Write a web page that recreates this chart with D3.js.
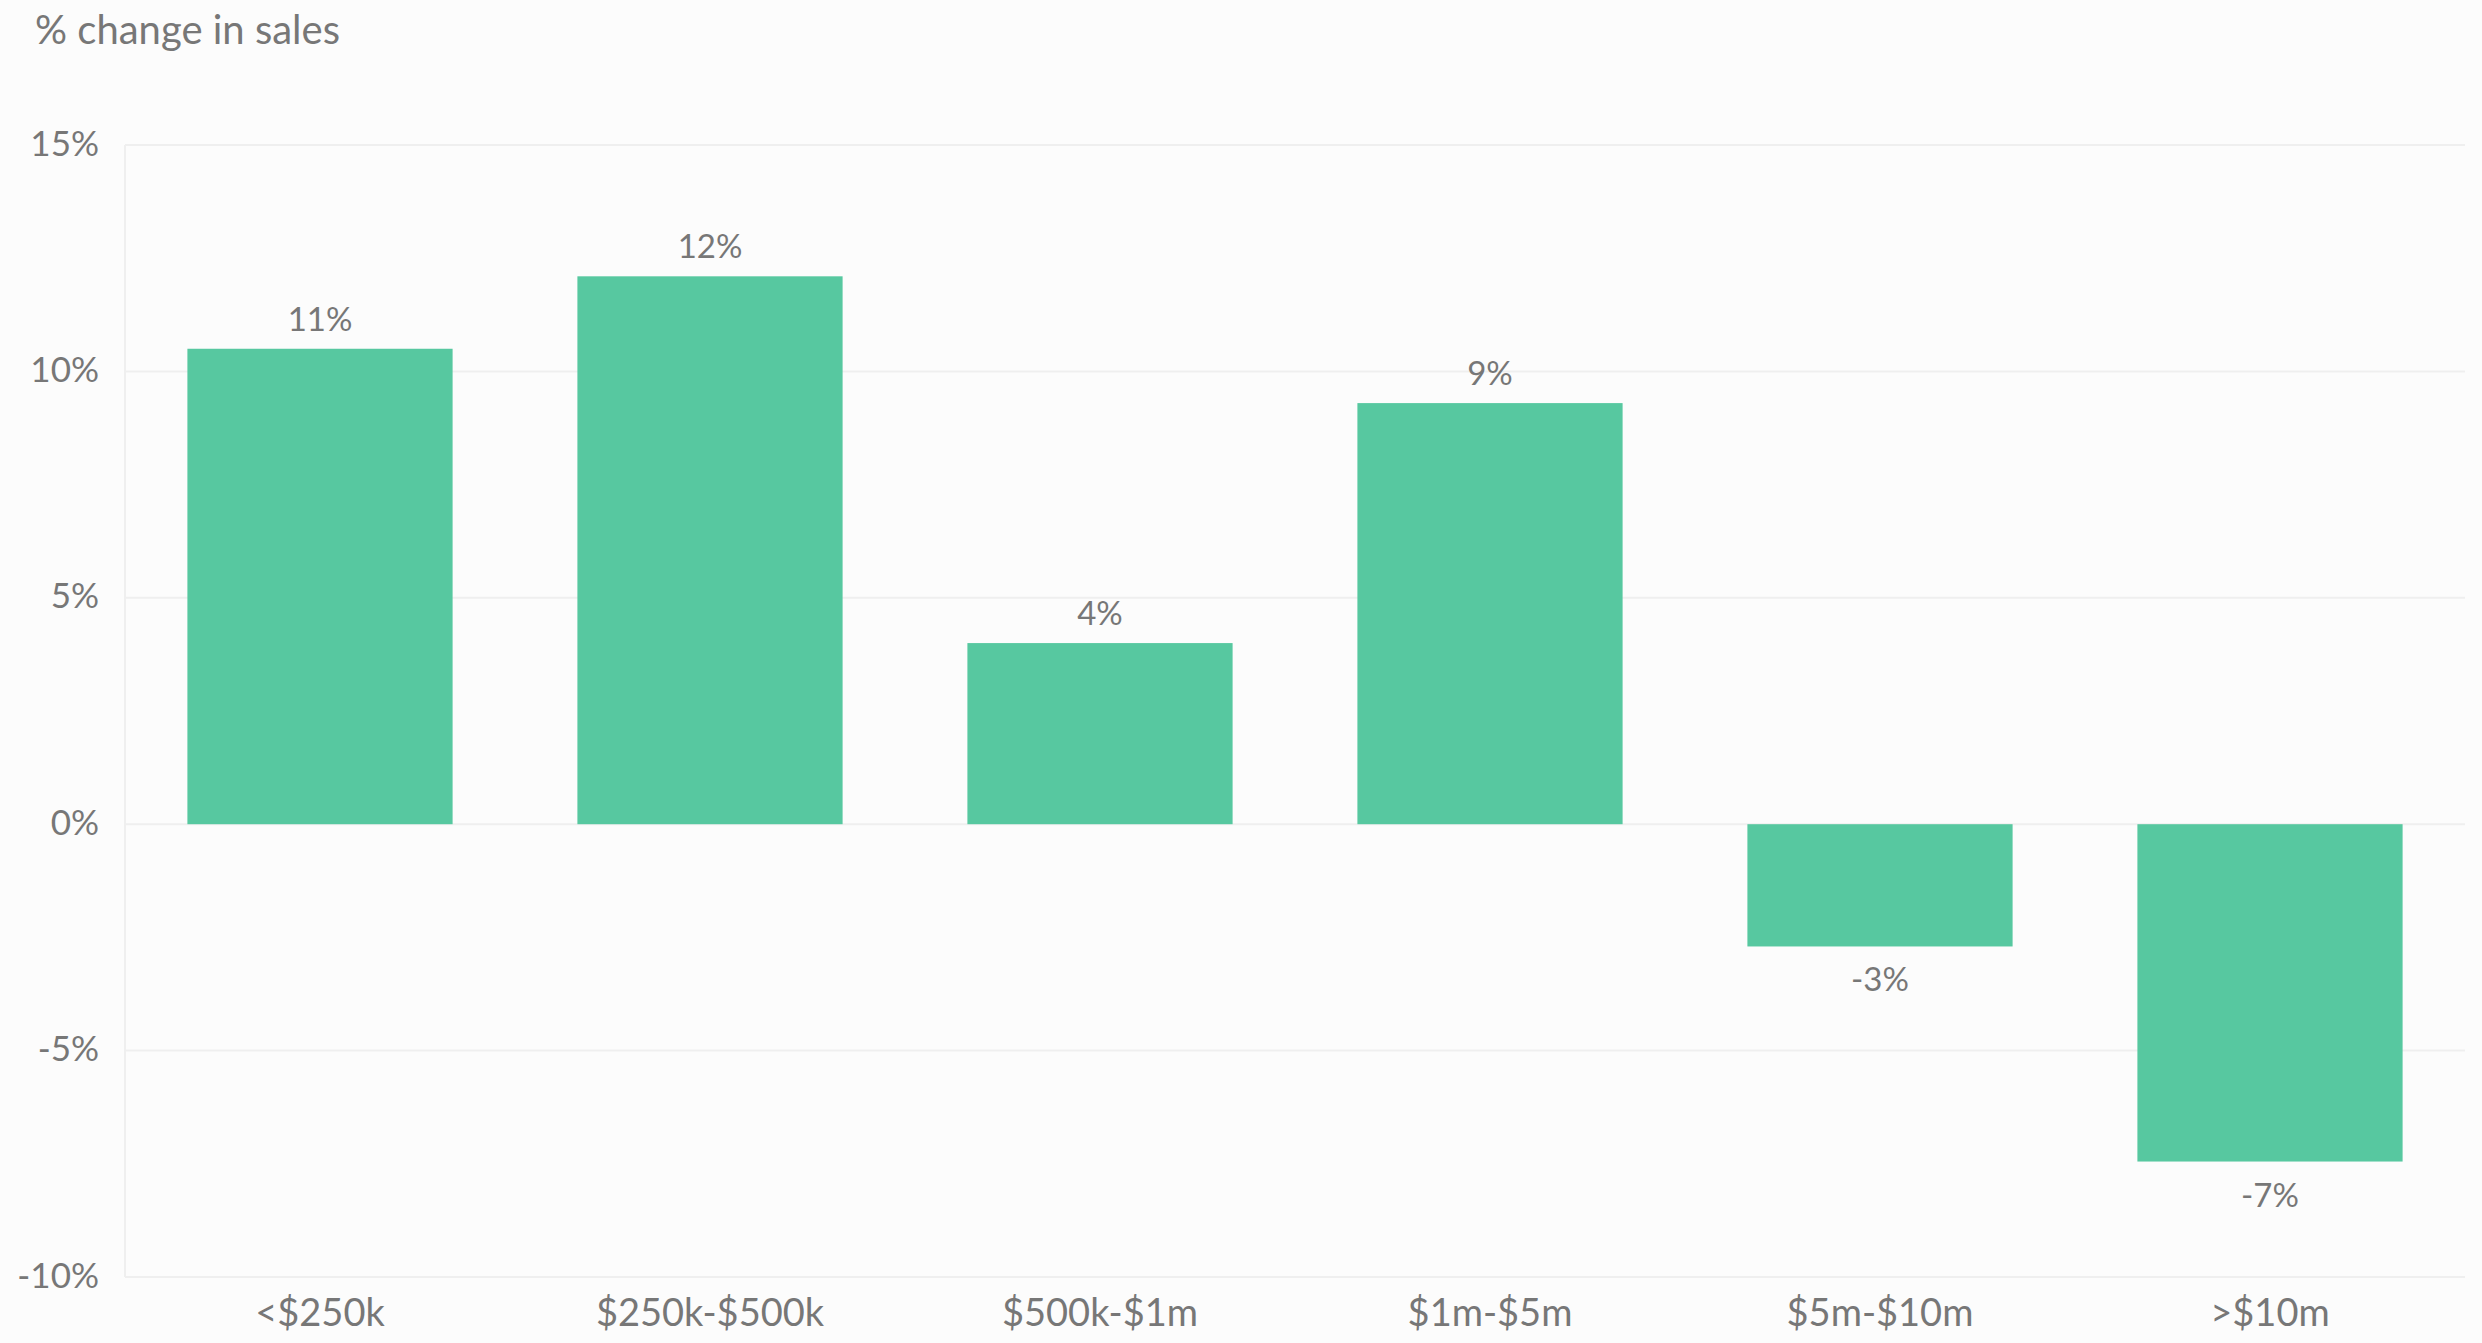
<!DOCTYPE html>
<html>
<head>
<meta charset="utf-8">
<script src="https://cdn.jsdelivr.net/npm/d3@7"></script>
<style>
  html, body { margin: 0; padding: 0; background: #fcfcfc; }
  svg { display: block; }
  text { font-family: Lato, "Open Sans", sans-serif; fill: #777777; }
</style>
</head>
<body>
<svg id="chart" width="2482" height="1343"></svg>
<script>
const categories = ["<$250k", "$250k-$500k", "$500k-$1m", "$1m-$5m", "$5m-$10m", ">$10m"];
const values = [10.5, 12.1, 4.0, 9.3, -2.7, -7.45];
const yTicks = [15, 10, 5, 0, -5, -10];
const title = "% change in sales";

const W = 2482, H = 1343;
const margin = { left: 125, right: 17, top: 145, bottom: 66 };

const svg = d3.select("#chart");
svg.append("rect").attr("width", W).attr("height", H).attr("fill", "#fcfcfc");

const x = d3.scaleBand()
  .domain(categories)
  .range([margin.left, W - margin.right])
  .paddingInner(0.32)
  .paddingOuter(0.16);

const y = d3.scaleLinear()
  .domain([-10, 15])
  .range([H - margin.bottom, margin.top]);

// gridlines
svg.append("g").selectAll("line")
  .data(yTicks)
  .join("line")
  .attr("x1", margin.left)
  .attr("x2", W - margin.right)
  .attr("y1", d => y(d))
  .attr("y2", d => y(d))
  .attr("stroke", "#efefef")
  .attr("stroke-width", 2);

// left axis line
svg.append("line")
  .attr("x1", margin.left).attr("x2", margin.left)
  .attr("y1", y(15)).attr("y2", y(-10))
  .attr("stroke", "#efefef").attr("stroke-width", 2);

// y tick labels
svg.append("g").selectAll("text")
  .data(yTicks)
  .join("text")
  .attr("x", 99)
  .attr("y", d => y(d))
  .attr("dy", "0.3em")
  .attr("text-anchor", "end")
  .attr("font-size", 35)
  .text(d => d + "%");

// bars
svg.append("g").selectAll("rect")
  .data(values)
  .join("rect")
  .attr("x", (d, i) => x(categories[i]))
  .attr("width", x.bandwidth())
  .attr("y", d => y(Math.max(0, d)))
  .attr("height", d => Math.abs(y(d) - y(0)))
  .attr("fill", "#57c8a0");

// value labels
svg.append("g").selectAll("text")
  .data(values)
  .join("text")
  .attr("x", (d, i) => x(categories[i]) + x.bandwidth() / 2)
  .attr("y", d => d >= 0 ? y(d) - 18 : y(d) + 45)
  .attr("text-anchor", "middle")
  .attr("font-size", 33)
  .text(d => Math.round(d) + "%");

// x category labels
svg.append("g").selectAll("text")
  .data(categories)
  .join("text")
  .attr("x", d => x(d) + x.bandwidth() / 2)
  .attr("y", 1326)
  .attr("text-anchor", "middle")
  .attr("font-size", 38)
  .text(d => d);

// title
svg.append("text")
  .attr("x", 35)
  .attr("y", 44)
  .attr("font-size", 40)
  .text(title);
</script>
</body>
</html>
